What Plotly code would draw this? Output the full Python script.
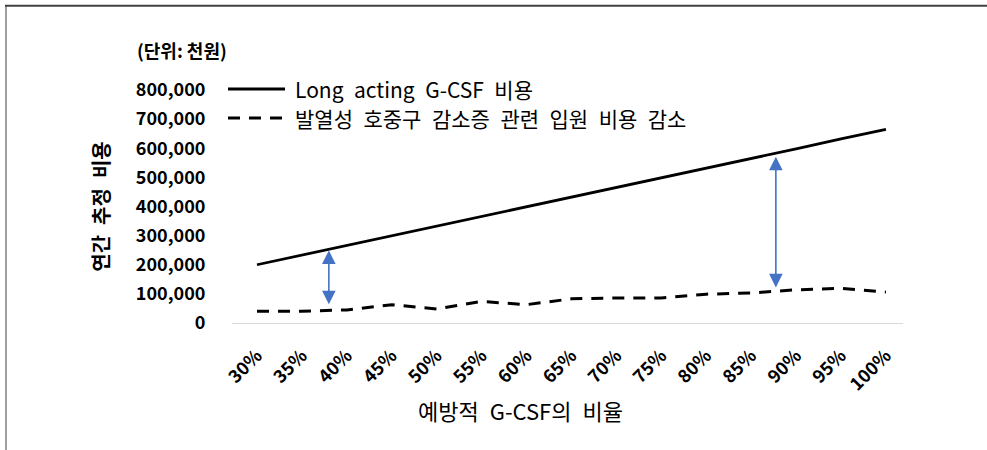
import plotly.graph_objects as go

# Share of prophylactic G-CSF use
categories = ["30%", "35%", "40%", "45%", "50%", "55%", "60%", "65%",
              "70%", "75%", "80%", "85%", "90%", "95%", "100%"]

# Annual estimated cost (unit: thousand KRW)
gcsf_cost = [200000, 233000, 266000, 299000, 333000, 366000, 399000, 432000,
             466000, 499000, 532000, 565000, 598000, 632000, 665000]
hospitalization_saving = [40000, 40000, 45000, 63000, 48000, 74000, 63000, 83000,
                          86000, 86000, 99000, 103000, 114000, 119000, 106000]

series_names = ["Long acting G-CSF 비용", "발열성 호중구 감소증 관련 입원 비용 감소"]
y_ticks = [0, 100000, 200000, 300000, 400000, 500000, 600000, 700000, 800000]

# Gap arrows: (category position, top value, bottom value)
gap_arrows = [(1.6, 249000, 59000), (11.55, 571000, 117000)]

FONT = "Noto Sans CJK KR"
W, H = 987, 450
ML, MR, MT, MB = 232, 84, 90, 127
PW, PH = W - ML - MR, H - MT - MB


def px(x):
    """Pixel column -> paper x."""
    return (x - ML) / PW


def py(y):
    """Pixel row -> paper y."""
    return (H - MB - y) / PH


def wide(text):
    """Use wider word gaps for Korean labels."""
    return text.replace(" ", "\u2002")


fig = go.Figure()
fig.add_trace(go.Scatter(
    x=categories, y=gcsf_cost, mode="lines", name=series_names[0],
    line=dict(color="black", width=2.75), showlegend=False,
))
fig.add_trace(go.Scatter(
    x=categories, y=hospitalization_saving, mode="lines", name=series_names[1],
    line=dict(color="black", width=3, dash="12px,9px"), showlegend=False,
))

for xc, top, bottom in gap_arrows:
    fig.add_annotation(
        x=xc, y=top, ax=xc, ay=bottom, xref="x", yref="y", axref="x", ayref="y",
        text="", showarrow=True, arrowhead=2, startarrowhead=2,
        arrowside="end+start", arrowsize=1.7, startarrowsize=1.7,
        arrowwidth=1.6, arrowcolor="#4472C4",
    )

# Legend drawn as sample lines with labels next to them
legend_rows = [(89, "solid"), (118, "12px,9px")]
for (row_y, dash), name in zip(legend_rows, series_names):
    fig.add_shape(
        type="line", xref="paper", yref="paper",
        x0=px(228), x1=px(285), y0=py(row_y), y1=py(row_y),
        line=dict(color="black", width=3, dash=dash),
    )
    fig.add_annotation(
        x=px(293), y=py(row_y), xref="paper", yref="paper", text=wide(name),
        showarrow=False, xanchor="left", yanchor="middle",
        font=dict(family=FONT, size=21, color="black"),
    )

# Unit note
fig.add_annotation(
    x=px(135), y=py(50), xref="paper", yref="paper", text="(단위: 천원)",
    showarrow=False, xanchor="left", yanchor="middle",
    font=dict(family=FONT, size=18, color="black", weight="bold"),
)

# X-axis title
fig.add_annotation(
    x=px(520), y=py(410), xref="paper", yref="paper", text=wide("예방적 G-CSF의 비율"),
    showarrow=False, xanchor="center", yanchor="middle",
    font=dict(family=FONT, size=22, color="black"),
)

# Frame: heavy top rule and thin left rule
fig.add_shape(type="line", xref="paper", yref="paper",
              x0=px(5), x1=px(987), y0=py(5.8), y1=py(5.8),
              line=dict(color="#404040", width=2))
fig.add_shape(type="line", xref="paper", yref="paper",
              x0=px(6), x1=px(6), y0=py(5), y1=py(452),
              line=dict(color="#404040", width=1))

fig.update_layout(
    width=W, height=H,
    margin=dict(l=ML, r=MR, t=MT, b=MB),
    paper_bgcolor="white", plot_bgcolor="white",
    font=dict(family=FONT, color="black"),
)
fig.update_xaxes(
    type="category", range=[-0.556, 14.38],
    tickangle=-45, ticks="outside", ticklen=14, tickcolor="rgba(0,0,0,0)",
    showgrid=False, showline=True, linecolor="#d9d9d9", linewidth=1,
    tickfont=dict(family=FONT, size=18, color="black", weight="bold"),
)
fig.update_yaxes(
    range=[0, 800000], tickvals=y_ticks, tickformat=",",
    showgrid=False, zeroline=False, showline=False,
    ticks="outside", ticklen=22, tickcolor="rgba(0,0,0,0)",
    tickfont=dict(family=FONT, size=18, color="black", weight="bold"),
    title=dict(text=wide("연간 추정 비용"), standoff=20,
               font=dict(family=FONT, size=20, color="black", weight="bold")),
)

fig.write_html("out.html")
